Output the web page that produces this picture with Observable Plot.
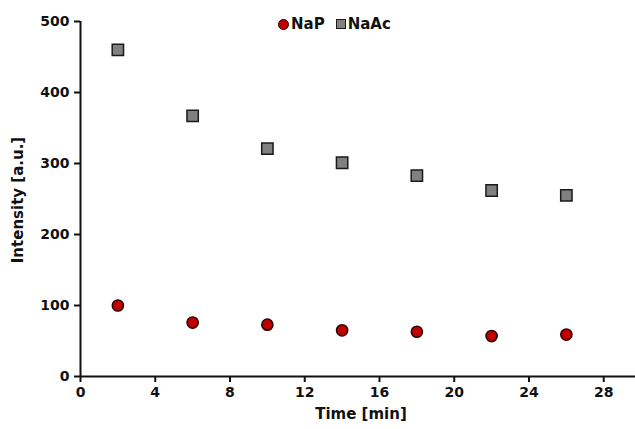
<!DOCTYPE html>
<html>
<head>
<meta charset="utf-8">
<script src="https://cdn.jsdelivr.net/npm/d3@7"></script>
<script src="https://cdn.jsdelivr.net/npm/@observablehq/plot@0.6"></script>
<style>
  html, body { margin: 0; padding: 0; background: #fff; }
  #wrap { position: relative; width: 635px; height: 429px; }
  #legend { position: absolute; top: 15px; left: 278px; font: bold 15px "DejaVu Sans", sans-serif; color: #111; display: flex; align-items: center; white-space: nowrap; }
  .sw { display: inline-block; box-sizing: border-box; margin-right: 2px; }
  .c { width: 11px; height: 11px; border-radius: 50%; background: #c00000; border: 1.5px solid #2a0000; }
  .s { width: 10px; height: 10px; background: #808080; border: 1.5px solid #1a1a1a; margin-left: 11px; }
</style>
</head>
<body>
<div id="wrap">
  <div id="legend"><span class="sw c"></span>NaP<span class="sw s"></span>NaAc</div>
</div>
<script>
const time = [2, 6, 10, 14, 18, 22, 26];
const napValues = [100, 76, 73, 65, 63, 57, 59];
const naacValues = [460, 367, 321, 301, 283, 262, 255];
const xTicks = [0, 4, 8, 12, 16, 20, 24, 28];
const yTicks = [0, 100, 200, 300, 400, 500];

const nap = time.map((t, i) => ({t, v: napValues[i]}));
const naac = time.map((t, i) => ({t, v: naacValues[i]}));

const chart = Plot.plot({
  width: 635,
  height: 429,
  marginLeft: 80,
  marginRight: 0,
  marginTop: 21,
  marginBottom: 53,
  style: {fontFamily: "DejaVu Sans, sans-serif", fontWeight: "bold", background: "#fff", color: "#111"},
  x: {domain: [0, 29.7]},
  y: {domain: [0, 500]},
  marks: [
    Plot.axisX({ticks: xTicks, tickSize: 6, tickPadding: 5, fontSize: 14, label: null, strokeWidth: 2}),
    Plot.axisY({ticks: yTicks, tickSize: 6, tickPadding: 5, fontSize: 14, label: null, strokeWidth: 2}),
    Plot.ruleY([0], {stroke: "#111", strokeWidth: 2}),
    Plot.ruleX([0], {stroke: "#111", strokeWidth: 2}),
    Plot.text(["Time [min]"], {frameAnchor: "bottom", dy: 42, dx: 3, fontSize: 15, fontWeight: "bold", fill: "#111"}),
    Plot.text(["Intensity [a.u.]"], {frameAnchor: "left", textAnchor: "middle", rotate: -90, dx: -62, dy: 1, fontSize: 15, fontWeight: "bold", fill: "#111"}),
    Plot.dot(naac, {x: "t", y: "v", symbol: "square", r: 6.4, fill: "#808080", stroke: "#1a1a1a", strokeWidth: 1.5}),
    Plot.dot(nap, {x: "t", y: "v", symbol: "circle", r: 5.6, fill: "#c00000", stroke: "#2a0000", strokeWidth: 1.5})
  ]
});
document.getElementById("wrap").prepend(chart);
</script>
</body>
</html>
